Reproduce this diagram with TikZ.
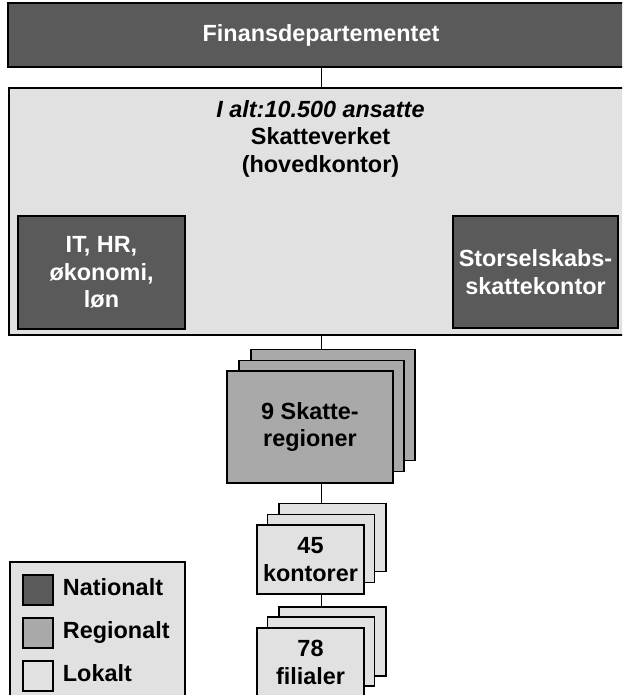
\documentclass[tikz,border=0pt]{standalone}
\usepackage{fontspec}
\setmainfont{Liberation Sans}
\usepackage{xcolor}
\usepackage{tikz}
\usetikzlibrary{positioning}

\definecolor{natgray}{HTML}{5A5A5A}
\definecolor{reggray}{HTML}{A9A9A9}
\definecolor{lokgray}{HTML}{E1E1E1}

\begin{document}
\begin{tikzpicture}[x=1pt, y=-1pt, font=\fontsize{23.4}{27.5}\selectfont\bfseries,
    box/.style={draw, line width=1.8pt, align=center, inner sep=0pt},
    natbox/.style={box, fill=natgray, text=white},
    regbox/.style={box, fill=reggray},
    lokbox/.style={box, fill=lokgray},
    swatch/.style={draw, line width=1.5pt, minimum size=30pt, inner sep=0pt},
    legtext/.style={text height=16.8pt, text depth=5pt, inner sep=3pt}]
    \useasboundingbox (0,0) rectangle (622,695);
    \clip (0,0) rectangle (622,695);
    % national level
    \node[natbox, minimum width=626pt, minimum height=64pt] (fin) at (321,35) {Finansdepartementet};
    \node[lokbox, minimum width=625pt, minimum height=247pt] (hq) at (321.5,211.5) {};
    \node[align=center] (hqtext) at (320.5,138.5) {\textit{I alt:10.500 ansatte}\\Skatteverket\\(hovedkontor)};
    \node[natbox, minimum width=167pt, minimum height=113pt] (it) at (101.5,272.5) {IT, HR,\\økonomi,\\løn};
    \node[natbox, minimum width=165pt, minimum height=112pt] (lto) at (535.5,272) {Storselskabs-\\skattekontor};
    % regions
    \node[regbox, minimum width=164pt, minimum height=111pt] (reg3) at (333,405) {};
    \node[regbox, minimum width=165pt, minimum height=111pt] (reg2) at (321.5,416) {};
    \node[regbox, minimum width=166pt, minimum height=112pt] (reg1) at (310,427) {9 Skatte-\\regioner};
    % offices
    \node[lokbox, minimum width=107pt, minimum height=68pt] (kon3) at (332.5,537.5) {};
    \node[lokbox, minimum width=107pt, minimum height=68pt] (kon2) at (321,548.5) {};
    \node[lokbox, minimum width=107pt, minimum height=69pt] (kon1) at (310.5,559.5) {45\\kontorer};
    \node[lokbox, minimum width=107pt, minimum height=69pt] (fil3) at (332.5,641.5) {};
    \node[lokbox, minimum width=107pt, minimum height=69pt] (fil2) at (321,651.5) {};
    \node[lokbox, minimum width=107pt, minimum height=69pt] (fil1) at (310.5,662.5) {78\\filialer};
    % connectors
    \draw[line width=1.8pt] (fin.south -| reg2) -- (hq.north -| reg2);
    \draw[line width=1.8pt] (hq.south -| reg2) -- (reg3.north -| reg2);
    \draw[line width=1.8pt] (reg1.south -| reg2) -- (kon3.north -| reg2);
    \draw[line width=1.8pt] (kon1.south -| reg2) -- (fil3.north -| reg2);
    % legend
    \node[lokbox, line width=1.5pt, minimum width=175pt, minimum height=140pt] (legend) at (97.5,632) {};
    \node[swatch, fill=natgray] (swnat) at (38,590) {};
    \node[swatch, fill=reggray, below=11.5pt of swnat] (swreg) {};
    \node[swatch, fill=lokgray, below=11.5pt of swreg] (swlok) {};
    \node[legtext, right=6pt of swnat] (txnat) {Nationalt};
    \node[legtext, right=6pt of swreg] (txreg) {Regionalt};
    \node[legtext, right=6pt of swlok] (txlok) {Lokalt};
\end{tikzpicture}
\end{document}
